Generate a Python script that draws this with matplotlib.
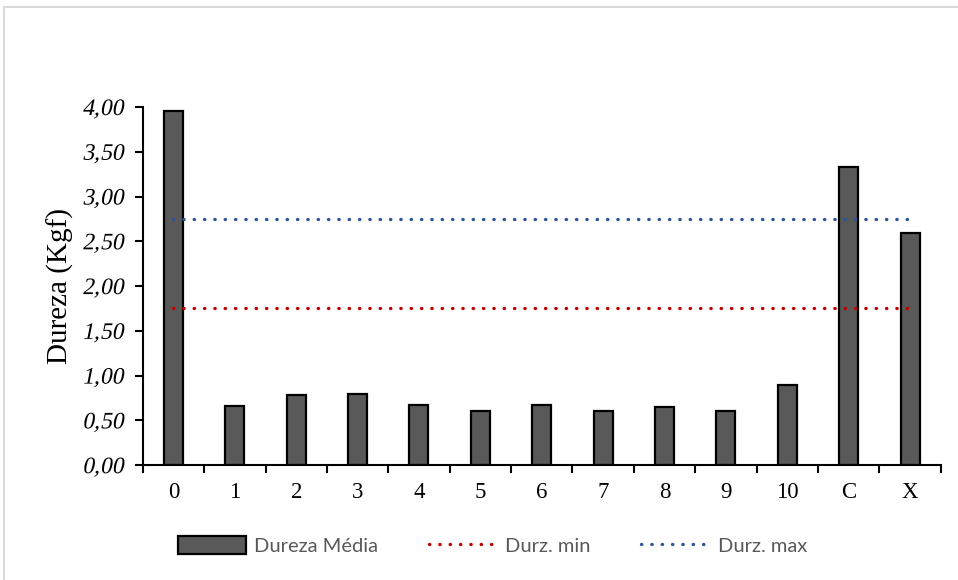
import matplotlib.pyplot as plt
from matplotlib.patches import Rectangle
from matplotlib.ticker import FixedLocator, NullFormatter
from matplotlib.patheffects import AbstractPathEffect
from matplotlib.transforms import Affine2D
import numpy as np

# Dureza média por amostra
amostras = ['0', '1', '2', '3', '4', '5', '6', '7', '8', '9', '10', 'C', 'X']
dureza_media = [3.96, 0.66, 0.78, 0.80, 0.67, 0.61, 0.67, 0.60, 0.65, 0.61, 0.89, 3.33, 2.59]
durz_min = [1.75] * len(amostras)
durz_max = [2.75] * len(amostras)
y_ticks = [0.0, 0.5, 1.0, 1.5, 2.0, 2.5, 3.0, 3.5, 4.0]


class Inclinado(AbstractPathEffect):
    """Inclina o texto em relação à linha de base (itálico sintético)."""

    def __init__(self, k=0.22):
        super().__init__()
        self.k = k

    def draw_path(self, renderer, gc, tpath, affine, rgbFace=None):
        x0, y0 = affine.transform((0, 0))
        skew = (Affine2D().translate(-x0, -y0)
                .skew(np.arctan(self.k), 0).translate(x0, y0))
        renderer.draw_path(gc, tpath, affine + skew, rgbFace)


fig = plt.figure(figsize=(9.58, 5.80), dpi=100)
ax = fig.add_axes([0.149, 0.198, 0.833, 0.6175])

# moldura cinza do gráfico
fig.patches.append(Rectangle((0.0045, -0.1), 1.1, 1.0872, transform=fig.transFigure,
                             fill=False, edgecolor='#d9d9d9', linewidth=1.5))

x = np.arange(len(amostras))
h_bar = ax.bar(x, dureza_media, width=0.31, color='#595959', edgecolor='black',
               linewidth=1.6, label='Dureza Média', zorder=2)
h_min, = ax.plot(x, durz_min, color='#C00000', linewidth=2.4, linestyle=(0, (0.1, 3.0)),
                 dash_capstyle='round', label='Durz. min', zorder=3)
h_max, = ax.plot(x, durz_max, color='#2F5597', linewidth=2.4, linestyle=(0, (0.1, 3.0)),
                 dash_capstyle='round', label='Durz. max', zorder=3)

ax.set_xlim(-0.5, len(amostras) - 0.5)
ax.set_ylim(0, 4)
ax.set_yticks(y_ticks, labels=[f'{v:.2f}'.replace('.', ',') for v in y_ticks],
              family='Liberation Serif', fontsize=17)
for lab in ax.get_yticklabels():
    lab.set_path_effects([Inclinado(0.2)])
ax.tick_params(axis='y', direction='out', length=6, width=1.5, pad=8)

# marcas do eixo x entre categorias, rótulos no centro
ax.xaxis.set_major_locator(FixedLocator(np.arange(-0.5, len(amostras), 1.0)))
ax.xaxis.set_major_formatter(NullFormatter())
ax.xaxis.set_minor_locator(FixedLocator(x))
ax.set_xticklabels(amostras, minor=True, family='Liberation Serif', fontsize=16.5)
ax.tick_params(axis='x', which='major', direction='out', length=6, width=1.5)
ax.tick_params(axis='x', which='minor', length=0, pad=12)

ax.set_ylabel('Dureza (Kgf)', family='Liberation Serif', fontsize=21, labelpad=6)

for s in ['top', 'right']:
    ax.spines[s].set_visible(False)
for s in ['left', 'bottom']:
    ax.spines[s].set_linewidth(1.5)

fig.legend([h_bar, h_min, h_max], ['Dureza Média', 'Durz. min', 'Durz. max'],
           loc='center', bbox_to_anchor=(0.514, 0.06), ncol=3, frameon=False,
           prop={'family': 'Lato', 'size': 14.5}, labelcolor='#595959',
           handlelength=3.4, handleheight=1.0, columnspacing=2.5, handletextpad=0.4)

fig.savefig('out.png', dpi=100)
